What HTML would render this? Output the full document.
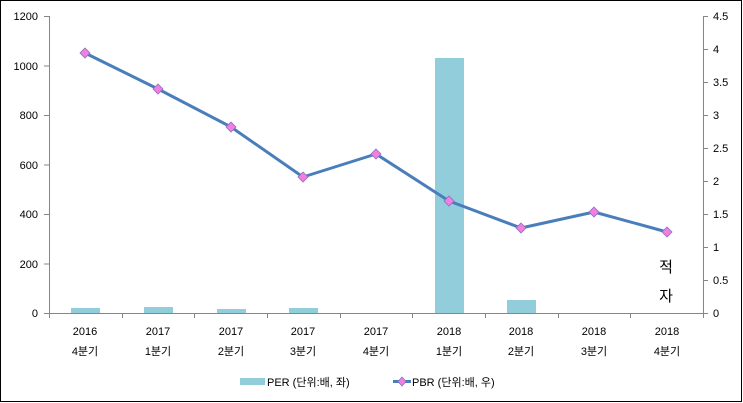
<!DOCTYPE html>
<html><head><meta charset="utf-8"><style>
html,body{margin:0;padding:0;background:#fff}
svg{display:block}
text{font-family:"Liberation Sans","Noto Sans CJK KR",sans-serif;font-size:11px;fill:#000}
</style></head><body>
<svg width="743" height="403" viewBox="0 0 743 403">
<rect x="0.5" y="0.5" width="741" height="401" fill="#fff" stroke="#000" stroke-width="1"/>
<g fill="#92CDDC">
<rect x="71" y="308" width="29" height="5"/>
<rect x="144" y="307" width="29" height="6"/>
<rect x="217" y="309" width="29" height="4"/>
<rect x="289" y="308" width="29" height="5"/>
<rect x="435" y="58" width="29" height="255"/>
<rect x="507" y="300" width="29" height="13"/>
</g>
<g stroke="#868686" stroke-width="1" fill="none">
<path d="M49.5 16V313.5M44 16.5H49.5M44 66H49.5M44 115.5H49.5M44 165H49.5M44 214.5H49.5M44 264H49.5M44 313.5H49.5"/>
<path d="M49 313.5H703.5"/>
<path d="M703.5 16V313.5M703.5 16.5H708M703.5 49.5H708M703.5 82.5H708M703.5 115.5H708M703.5 148.5H708M703.5 181.5H708M703.5 214.5H708M703.5 247.5H708M703.5 280.5H708M703.5 313.5H708"/>
<path d="M49.5 313V318M122.5 313V318M194.5 313V318M267.5 313V318M340.5 313V318M412.5 313V318M485.5 313V318M558.5 313V318M630.5 313V318M703.5 313V318"/>
</g>
<g text-anchor="end">
<text x="38" y="20">1200</text><text x="38" y="70">1000</text><text x="38" y="119">800</text><text x="38" y="169">600</text><text x="38" y="218">400</text><text x="38" y="268">200</text><text x="38" y="317">0</text>
</g>
<g>
<text x="713" y="20">4.5</text><text x="713" y="53">4</text><text x="713" y="86">3.5</text><text x="713" y="119">3</text><text x="713" y="152">2.5</text><text x="713" y="185">2</text><text x="713" y="218">1.5</text><text x="713" y="251">1</text><text x="713" y="284">0.5</text><text x="713" y="317">0</text>
</g>
<g text-anchor="middle">
<text x="85" y="335">2016</text><text x="85" y="355">4분기</text>
<text x="158" y="335">2017</text><text x="158" y="355">1분기</text>
<text x="231" y="335">2017</text><text x="231" y="355">2분기</text>
<text x="303" y="335">2017</text><text x="303" y="355">3분기</text>
<text x="376" y="335">2017</text><text x="376" y="355">4분기</text>
<text x="449" y="335">2018</text><text x="449" y="355">1분기</text>
<text x="521" y="335">2018</text><text x="521" y="355">2분기</text>
<text x="594" y="335">2018</text><text x="594" y="355">3분기</text>
<text x="667" y="335">2018</text><text x="667" y="355">4분기</text>
<text x="666" y="272" style="font-size:15px">적</text>
<text x="666" y="301" style="font-size:15px">자</text>
</g>
<polyline points="85,53 158,89 231,127 303,177 376,154 449,201 521,228 594,212 667,232" fill="none" stroke="#4A7EBB" stroke-width="3" stroke-linejoin="round"/>
<g fill="#F07FE0" stroke="#8C6FC0" stroke-width="0.8">
<path d="M85 48L90 53L85 58L80 53Z"/><path d="M158 84L163 89L158 94L153 89Z"/><path d="M231 122L236 127L231 132L226 127Z"/><path d="M303 172L308 177L303 182L298 177Z"/><path d="M376 149L381 154L376 159L371 154Z"/><path d="M449 196L454 201L449 206L444 201Z"/><path d="M521 223L526 228L521 233L516 228Z"/><path d="M594 207L599 212L594 217L589 212Z"/><path d="M667 227L672 232L667 237L662 232Z"/>
</g>
<rect x="240" y="378" width="25" height="7" fill="#92CDDC"/>
<text x="267" y="386">PER (단위:배, 좌)</text>
<line x1="393" y1="381.5" x2="411" y2="381.5" stroke="#4A7EBB" stroke-width="3"/>
<path d="M402 377L406 381.5L402 386L398 381.5Z" fill="#F07FE0" stroke="#8C6FC0" stroke-width="0.8"/>
<text x="412" y="386">PBR (단위:배, 우)</text>
</svg>
</body></html>
